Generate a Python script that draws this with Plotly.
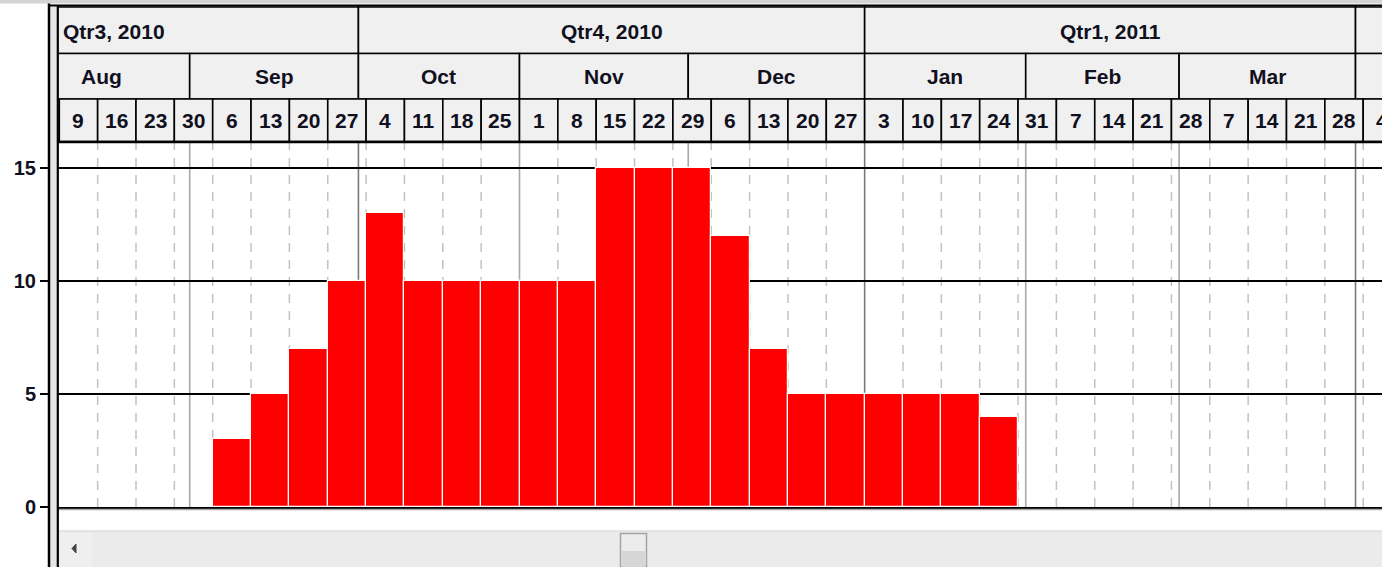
import numpy as np
import plotly.graph_objects as go

# ---------------- data ----------------
week_starts = ['2010-08-09', '2010-08-16', '2010-08-23', '2010-08-30',
               '2010-09-06', '2010-09-13', '2010-09-20', '2010-09-27',
               '2010-10-04', '2010-10-11', '2010-10-18', '2010-10-25',
               '2010-11-01', '2010-11-08', '2010-11-15', '2010-11-22', '2010-11-29',
               '2010-12-06', '2010-12-13', '2010-12-20', '2010-12-27',
               '2011-01-03', '2011-01-10', '2011-01-17', '2011-01-24',
               '2011-01-31', '2011-02-07', '2011-02-14', '2011-02-21',
               '2011-02-28', '2011-03-07', '2011-03-14', '2011-03-21', '2011-03-28',
               '2011-04-04']
week_labels = ['9', '16', '23', '30', '6', '13', '20', '27', '4', '11', '18', '25',
               '1', '8', '15', '22', '29', '6', '13', '20', '27', '3', '10', '17', '24',
               '31', '7', '14', '21', '28', '7', '14', '21', '28', '4']
counts = [None, None, None, None, 3, 5, 7, 10, 13, 10, 10, 10, 10, 10, 15, 15, 15,
          12, 7, 5, 5, 5, 5, 5, 4, None, None, None, None, None, None, None, None,
          None, None]

month_bounds = ['2010-08-01', '2010-09-01', '2010-10-01', '2010-11-01', '2010-12-01',
                '2011-01-01', '2011-02-01', '2011-03-01', '2011-04-01', '2011-05-01']
month_labels = ['Aug', 'Sep', 'Oct', 'Nov', 'Dec', 'Jan', 'Feb', 'Mar', 'Apr']

quarter_bounds = ['2010-07-01', '2010-10-01', '2011-01-01', '2011-04-01', '2011-07-01']
quarter_labels = ['Qtr3, 2010', 'Qtr4, 2010', 'Qtr1, 2011', 'Qtr2, 2011']

y_ticks = [0, 5, 10, 15]

# ---------------- layout geometry ----------------
W, H = 1382, 567          # reference pixel frame
FIG_H = 578               # figure height (capture is slightly squeezed vertically)
ORIGIN = week_starts[0]
X0_PX = 59.3          # pixel of first week start
PX_PER_WD = 38.35 / 5  # pixels per working day
PLOT_L = 58
Y0_PX, Y15_PX, PLOT_T = 507, 168, 142
PX_PER_UNIT = (Y0_PX - Y15_PX) / 15.0

FONT = "Liberation Sans, Arial, sans-serif"
TXT = '#10101e'


def wd(d):
    """working-day coordinate of a date (weekends collapsed)"""
    return float(np.busday_count(ORIGIN, d))


def px(p):
    return p / W


def py(p):
    return 1 - p / H


x_range = [(PLOT_L - X0_PX) / PX_PER_WD, (W - X0_PX) / PX_PER_WD]


def wd_paper(v):
    return (X0_PX + v * PX_PER_WD) / W


week_x0 = [wd(d) for d in week_starts]
week_x1 = [x + 5 for x in week_x0]
week_c = [x + 2.5 for x in week_x0]
month_x = [wd(d) for d in month_bounds]
quarter_x = [wd(d) for d in quarter_bounds]

fig = go.Figure()
fig.add_trace(go.Bar(
    x=week_c, y=counts, width=[5] * len(week_c),
    marker=dict(color='#ff0000', line=dict(color='white', width=1.2)),
    hoverinfo='skip', showlegend=False))

shapes = []
annotations = []

# top strip
shapes.append(dict(type='rect', xref='paper', yref='paper', x0=0, x1=1,
                   y0=py(3.5), y1=1, fillcolor='#d4d4d4', line=dict(width=0)))

# header rows
rows = [(7, 53.5), (53.5, 99), (99, 141.5)]


def header_cells(xs0, xs1, row):
    top, bot = rows[row]
    for a, b in zip(xs0, xs1):
        shapes.append(dict(type='rect', xref='x', yref='paper', x0=a, x1=b,
                           y0=py(bot), y1=py(top), fillcolor='#f0f0f0',
                           line=dict(color='black', width=1.6), layer='above'))


header_cells(quarter_x[:-1], quarter_x[1:], 0)
header_cells(month_x[:-1], month_x[1:], 1)
header_cells(week_x0, week_x1, 2)

vis_l, vis_r = x_range


def add_label(text, xpaper, ypix, anchor='center', size=21):
    annotations.append(dict(text=text, x=xpaper, y=py(ypix), xref='paper', yref='paper',
                            xanchor=anchor, yanchor='middle', showarrow=False,
                            font=dict(family=FONT, size=size, color=TXT, weight='bold')))


for lab, a, b in zip(quarter_labels, quarter_x[:-1], quarter_x[1:]):
    if a < vis_l:
        add_label(lab, px(PLOT_L + 3), 31, 'left')
    elif (a + b) / 2 < vis_r:
        add_label(lab, wd_paper((a + b) / 2), 31)
for lab, a, b in zip(month_labels, month_x[:-1], month_x[1:]):
    c = (a + b) / 2
    if vis_l < c < vis_r:
        add_label(lab, wd_paper(c), 77)
for lab, c in zip(week_labels, week_c):
    if wd_paper(c) * W < W + 12:
        add_label(lab, wd_paper(c), 121)

# vertical grid lines in plot area
month_set = set(month_x)
quarter_set = set(quarter_x)
for x in week_x0[1:]:
    if x in month_set:
        continue
    shapes.append(dict(type='line', xref='x', yref='paper', x0=x, x1=x,
                       y0=py(Y0_PX), y1=py(PLOT_T), layer='below',
                       line=dict(color='#c2c2c2', width=1.5, dash='9px,8px')))
for x in month_x:
    col = '#7a7a7a' if x in quarter_set else '#a8a8a8'
    shapes.append(dict(type='line', xref='x', yref='paper', x0=x, x1=x,
                       y0=py(Y0_PX), y1=py(PLOT_T), layer='below',
                       line=dict(color=col, width=1.6)))

# header bottom thick line
shapes.append(dict(type='line', xref='paper', yref='paper', x0=px(PLOT_L), x1=1,
                   y0=py(142), y1=py(142), line=dict(color='black', width=2.5)))
# line under zero
shapes.append(dict(type='line', xref='paper', yref='paper', x0=px(PLOT_L), x1=1,
                   y0=py(509.5), y1=py(509.5), line=dict(color='#a8a8a8', width=1.5)))

# scrollbar
shapes.append(dict(type='rect', xref='paper', yref='paper', x0=px(PLOT_L), x1=1,
                   y0=0, y1=py(531), fillcolor='#ebebeb', line=dict(width=0)))
shapes.append(dict(type='line', xref='paper', yref='paper', x0=px(PLOT_L), x1=1,
                   y0=py(531), y1=py(531), line=dict(color='#dedede', width=1.5)))
shapes.append(dict(type='rect', xref='paper', yref='paper', x0=px(60), x1=px(92),
                   y0=0, y1=py(533), fillcolor='#efefef', line=dict(width=0)))
shapes.append(dict(type='path', xref='paper', yref='paper',
                   path='M %f %f L %f %f L %f %f Z' % (px(72), py(548.5), px(76), py(544),
                                                      px(76), py(553)),
                   fillcolor='#444444', line=dict(color='#444444', width=1)))
shapes.append(dict(type='rect', xref='paper', yref='paper', x0=px(620.5), x1=px(646.5),
                   y0=0, y1=py(533.5), fillcolor='#ececec',
                   line=dict(color='#a4a4a4', width=1.5)))
shapes.append(dict(type='rect', xref='paper', yref='paper', x0=px(622), x1=px(645),
                   y0=0, y1=py(551), fillcolor='#d6d6d6', line=dict(width=0)))

# left splitter (double line)
shapes.append(dict(type='rect', xref='paper', yref='paper', x0=px(50), x1=px(57),
                   y0=0, y1=py(3.5), fillcolor='#e6e6e6', line=dict(width=0)))
shapes.append(dict(type='line', xref='paper', yref='paper', x0=px(49), x1=px(49),
                   y0=0, y1=py(3.5), line=dict(color='black', width=2.5)))
shapes.append(dict(type='line', xref='paper', yref='paper', x0=px(57.8), x1=px(57.8),
                   y0=0, y1=py(5), line=dict(color='black', width=2.2)))
shapes.append(dict(type='line', xref='paper', yref='paper', x0=px(48), x1=1,
                   y0=py(5.5), y1=py(5.5), line=dict(color='black', width=2.2)))

fig.update_layout(
    width=W, height=FIG_H,
    margin=dict(l=0, r=0, t=0, b=0),
    paper_bgcolor='white', plot_bgcolor='white',
    showlegend=False,
    shapes=shapes, annotations=annotations,
    xaxis=dict(domain=[px(PLOT_L), 1], range=x_range, showgrid=False,
               zeroline=False, showline=True, linecolor='black', linewidth=2.2,
               ticks='', showticklabels=False, fixedrange=True),
    yaxis=dict(domain=[py(Y0_PX), py(PLOT_T)],
               range=[0, (Y0_PX - PLOT_T) / PX_PER_UNIT],
               anchor='free', position=px(49), side='left',
               tickvals=y_ticks, ticktext=[str(v) for v in y_ticks],
               ticks='outside', ticklen=9, tickwidth=1.5, tickcolor='black',
               tickfont=dict(family=FONT, size=20, color=TXT, weight='bold'),
               showgrid=True, gridcolor='black', gridwidth=2,
               zeroline=False, showline=False, fixedrange=True),
    bargap=0,
)

fig.write_html("out.html", config={'displayModeBar': False},
               post_script="document.body.style.margin='0px';"
                           "document.body.style.padding='0px';"
                           "document.body.style.overflow='hidden';")
